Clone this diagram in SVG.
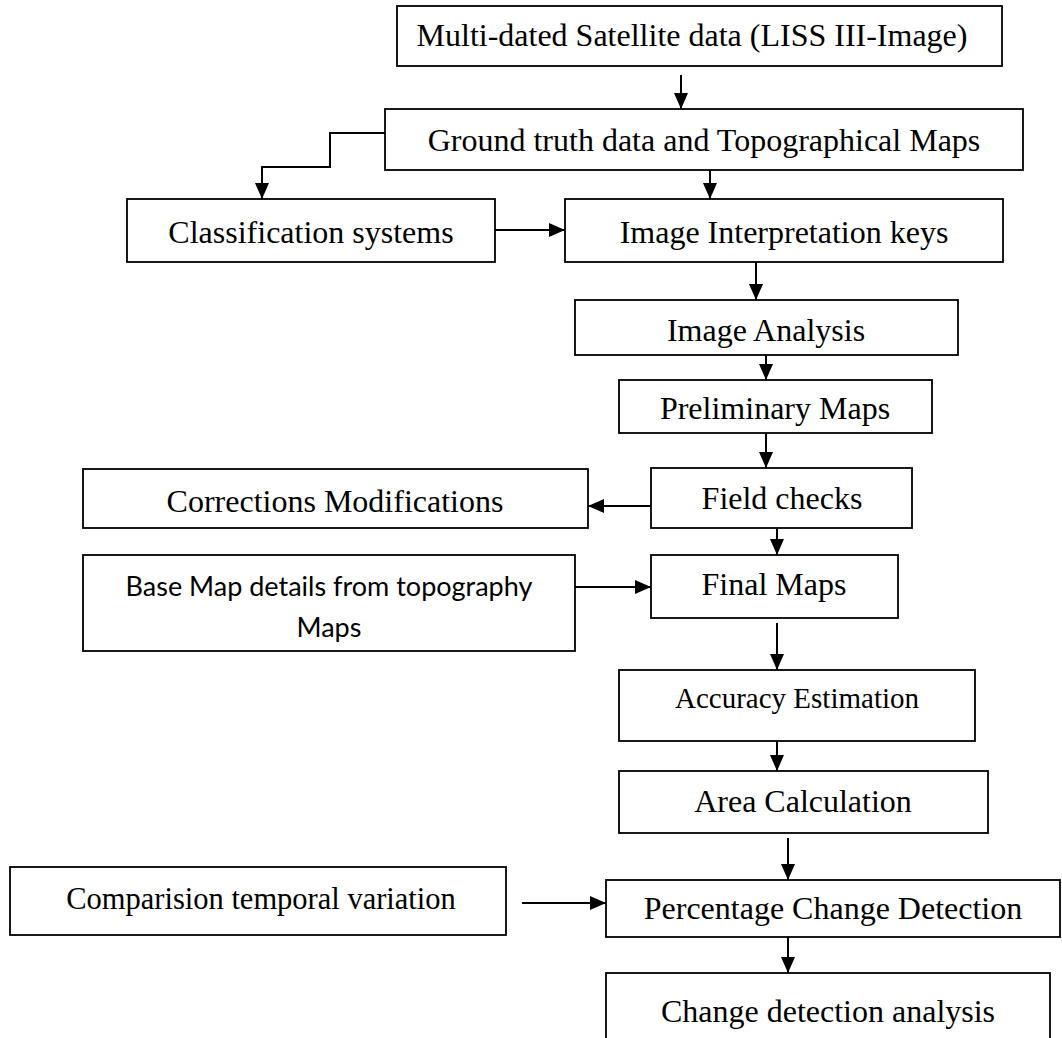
<svg xmlns="http://www.w3.org/2000/svg" width="1062" height="1038" viewBox="0 0 1062 1038">
  <style>
    .box { fill: #fff; stroke: #000; stroke-width: 1.8; }
    .lbl { font-family: "Liberation Serif", "Times New Roman", serif; font-size: 32px; fill: #000; text-anchor: middle; }
    .sans { font-family: Lato, "Liberation Sans", sans-serif; font-size: 27px; fill: #000; text-anchor: middle; }
    .wire { fill: none; stroke: #000; stroke-width: 2; }
  </style>
  <defs>
    <marker id="arrow" markerUnits="userSpaceOnUse" markerWidth="16" markerHeight="14" viewBox="0 0 16 14" refX="16" refY="7" orient="auto">
      <path d="M0,0 L16,7 L0,14 Z" fill="#000"/>
    </marker>
  </defs>
  <rect width="1062" height="1038" fill="#fff"/>

  <!-- connectors -->
  <g id="connectors">
    <line class="wire" x1="681" y1="75" x2="681" y2="109" marker-end="url(#arrow)"/>
    <polyline class="wire" points="385,133 330,133 330,167 262,167 262,199" marker-end="url(#arrow)"/>
    <line class="wire" x1="710" y1="170" x2="710" y2="199" marker-end="url(#arrow)"/>
    <line class="wire" x1="495" y1="230" x2="565" y2="230" marker-end="url(#arrow)"/>
    <line class="wire" x1="756" y1="262" x2="756" y2="300" marker-end="url(#arrow)"/>
    <line class="wire" x1="766" y1="355" x2="766" y2="380" marker-end="url(#arrow)"/>
    <line class="wire" x1="766" y1="433" x2="766" y2="468" marker-end="url(#arrow)"/>
    <line class="wire" x1="651" y1="506" x2="588" y2="506" marker-end="url(#arrow)"/>
    <line class="wire" x1="777" y1="528" x2="777" y2="555" marker-end="url(#arrow)"/>
    <line class="wire" x1="575" y1="587" x2="651" y2="587" marker-end="url(#arrow)"/>
    <line class="wire" x1="777" y1="623" x2="777" y2="670" marker-end="url(#arrow)"/>
    <line class="wire" x1="777" y1="741" x2="777" y2="771" marker-end="url(#arrow)"/>
    <line class="wire" x1="788" y1="838" x2="788" y2="880" marker-end="url(#arrow)"/>
    <line class="wire" x1="522" y1="903" x2="606" y2="903" marker-end="url(#arrow)"/>
    <line class="wire" x1="788" y1="932" x2="788" y2="973" marker-end="url(#arrow)"/>
  </g>

  <!-- nodes -->
  <g id="satellite-data">
    <rect class="box" x="397" y="6" width="605" height="60"/>
    <text class="lbl" x="692" y="46">Multi-dated Satellite data (LISS III-Image)</text>
  </g>
  <g id="ground-truth">
    <rect class="box" x="385" y="109" width="638" height="61"/>
    <text class="lbl" x="704" y="151">Ground truth data and Topographical Maps</text>
  </g>
  <g id="classification">
    <rect class="box" x="127" y="199" width="368" height="63"/>
    <text class="lbl" x="311" y="243">Classification systems</text>
  </g>
  <g id="interpretation-keys">
    <rect class="box" x="565" y="199" width="438" height="63"/>
    <text class="lbl" x="784" y="243">Image Interpretation keys</text>
  </g>
  <g id="image-analysis">
    <rect class="box" x="575" y="300" width="383" height="55"/>
    <text class="lbl" x="766" y="341">Image Analysis</text>
  </g>
  <g id="preliminary-maps">
    <rect class="box" x="619" y="380" width="313" height="53"/>
    <text class="lbl" x="775" y="419">Preliminary Maps</text>
  </g>
  <g id="field-checks">
    <rect class="box" x="651" y="468" width="261" height="60"/>
    <text class="lbl" x="782" y="509">Field checks</text>
  </g>
  <g id="corrections">
    <rect class="box" x="83" y="469" width="505" height="59"/>
    <text class="lbl" x="335" y="512">Corrections Modifications</text>
  </g>
  <g id="base-map">
    <rect class="box" x="83" y="555" width="492" height="96"/>
    <text class="sans" x="329" y="596">Base Map details from topography</text>
    <text class="sans" x="329" y="637">Maps</text>
  </g>
  <g id="final-maps">
    <rect class="box" x="651" y="555" width="247" height="63"/>
    <text class="lbl" x="774" y="595">Final Maps</text>
  </g>
  <g id="accuracy">
    <rect class="box" x="619" y="670" width="356" height="71"/>
    <text class="lbl" x="797" y="708" style="font-size:29px">Accuracy Estimation</text>
  </g>
  <g id="area-calculation">
    <rect class="box" x="619" y="771" width="369" height="62"/>
    <text class="lbl" x="803" y="812">Area Calculation</text>
  </g>
  <g id="comparison">
    <rect class="box" x="10" y="867" width="496" height="68"/>
    <text class="lbl" x="261" y="909" style="font-size:30.5px">Comparision temporal variation</text>
  </g>
  <g id="percentage-change">
    <rect class="box" x="606" y="880" width="454" height="57"/>
    <text class="lbl" x="833" y="919">Percentage Change Detection</text>
  </g>
  <g id="change-analysis">
    <rect class="box" x="606" y="973" width="444" height="70"/>
    <text class="lbl" x="828" y="1022">Change detection analysis</text>
  </g>
</svg>
